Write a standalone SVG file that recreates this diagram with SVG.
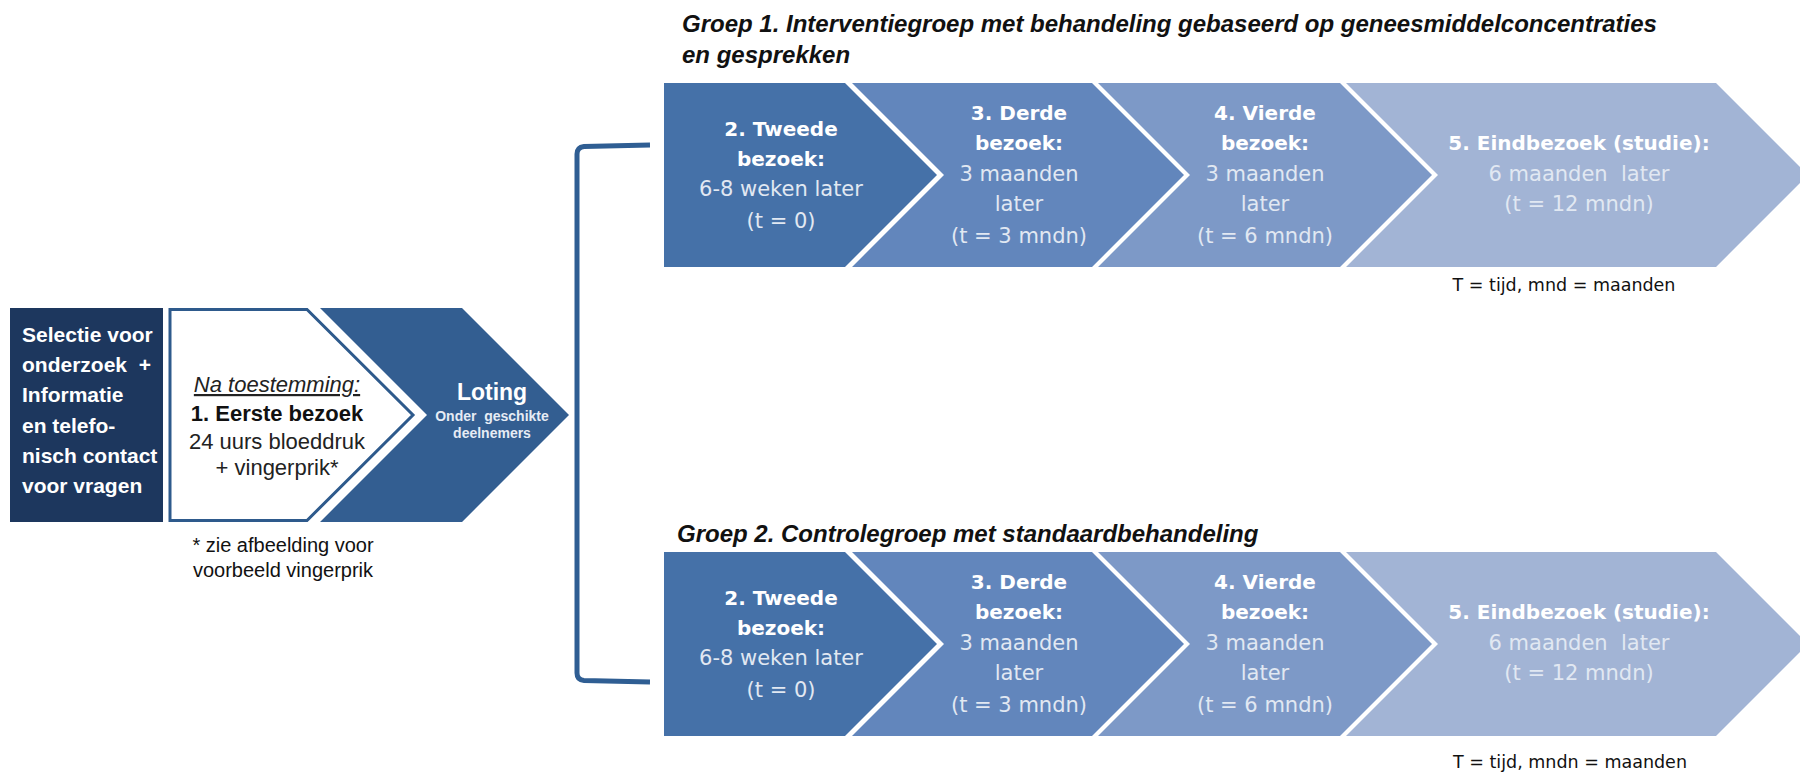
<svg xmlns="http://www.w3.org/2000/svg" width="1800" height="773" viewBox="0 0 1800 773">
<style>
text{font-family:"Liberation Sans",Arial,sans-serif}
.lb{font-size:21px;font-weight:bold;fill:#FFFFFF}
.ct{font-family:"DejaVu Sans",sans-serif;font-size:20px;font-weight:bold;fill:#FFFFFF;text-anchor:middle}
.cb{font-family:"DejaVu Sans",sans-serif;font-size:21px;fill:#E1E8F2;text-anchor:middle}
.ttl{font-size:24px;font-weight:bold;font-style:italic;fill:#111111}
.note{font-size:20px;fill:#111111;text-anchor:middle}
.leg{font-family:"DejaVu Sans",sans-serif;font-size:17.5px;fill:#111111;text-anchor:middle}
.c1{fill:#4571A8}
.c2{fill:#6286BC}
.c3{fill:#7D99C7}
.c4{fill:#A2B4D5}
</style>
<rect width="1800" height="773" fill="#FFFFFF"/>

<g id="selectie">
<rect x="10" y="308" width="153" height="214" fill="#1D375E"/>
<text class="lb" x="22" y="342">Selectie voor</text>
<text class="lb" x="22" y="372" xml:space="preserve">onderzoek  +</text>
<text class="lb" x="22" y="402">Informatie</text>
<text class="lb" x="22" y="433">en telefo-</text>
<text class="lb" x="22" y="463">nisch contact</text>
<text class="lb" x="22" y="493">voor vragen</text>
</g>

<g id="eerste-bezoek">
<polygon points="170,309.5 307,309.5 413,415 307,520.5 170,520.5" fill="#FFFFFF" stroke="#2E5A8C" stroke-width="3"/>
<text x="277" y="392" text-anchor="middle" font-size="22" font-style="italic" fill="#222222" text-decoration="underline">Na toestemming:</text>
<text x="277" y="421" text-anchor="middle" font-size="22" font-weight="bold" fill="#111111">1. Eerste bezoek</text>
<text x="277" y="449" text-anchor="middle" font-size="22" fill="#222222">24 uurs bloeddruk</text>
<text x="277" y="475" text-anchor="middle" font-size="22" fill="#222222">+ vingerprik*</text>
</g>

<g id="voetnoot">
<text class="note" x="283" y="552">* zie afbeelding voor</text>
<text class="note" x="283" y="577">voorbeeld vingerprik</text>
</g>

<g id="loting">
<polygon points="320,308 462,308 569,415 462,522 320,522 427,415" fill="#335E91"/>
<text x="492" y="400" text-anchor="middle" font-size="23" font-weight="bold" fill="#FFFFFF">Loting</text>
<text x="492" y="421" text-anchor="middle" font-size="14" font-weight="bold" fill="#E6ECF5" xml:space="preserve">Onder  geschikte</text>
<text x="492" y="438" text-anchor="middle" font-size="14" font-weight="bold" fill="#E6ECF5">deelnemers</text>
</g>

<g id="connectors">
<path d="M650,145 L584,146.5 Q577,147.5 577,154 L577,673 Q577,680 584,680.5 L650,682" fill="none" stroke="#2F5E93" stroke-width="5"/>
</g>

<g id="groep1-titel">
<text class="ttl" x="682" y="32">Groep 1. Interventiegroep met behandeling gebaseerd op geneesmiddelconcentraties</text>
<text class="ttl" x="682" y="63">en gesprekken</text>
</g>

<g id="g1-tweede">
<polygon class="c1" points="664,83 845,83 937,175 845,267 664,267"/>
<text class="ct" x="781" y="136">2. Tweede</text>
<text class="ct" x="781" y="166">bezoek:</text>
<text class="cb" x="781" y="196">6-8 weken later</text>
<text class="cb" x="781" y="228">(t = 0)</text>
</g>
<g id="g1-derde">
<polygon class="c2" points="852,83 1092,83 1184,175 1092,267 852,267 944,175"/>
<text class="ct" x="1019" y="120">3. Derde</text>
<text class="ct" x="1019" y="150">bezoek:</text>
<text class="cb" x="1019" y="181">3 maanden</text>
<text class="cb" x="1019" y="211">later</text>
<text class="cb" x="1019" y="243">(t = 3 mndn)</text>
</g>
<g id="g1-vierde">
<polygon class="c3" points="1098,83 1340,83 1432,175 1340,267 1098,267 1190,175"/>
<text class="ct" x="1265" y="120">4. Vierde</text>
<text class="ct" x="1265" y="150">bezoek:</text>
<text class="cb" x="1265" y="181">3 maanden</text>
<text class="cb" x="1265" y="211">later</text>
<text class="cb" x="1265" y="243">(t = 6 mndn)</text>
</g>
<g id="g1-eind">
<polygon class="c4" points="1346,83 1716,83 1808,175 1716,267 1346,267 1438,175"/>
<text class="ct" x="1579" y="150">5. Eindbezoek (studie):</text>
<text class="cb" x="1579" y="181" xml:space="preserve">6 maanden  later</text>
<text class="cb" x="1579" y="211">(t = 12 mndn)</text>
</g>
<g id="g1-legenda">
<text class="leg" x="1564" y="291">T = tijd, mnd = maanden</text>
</g>

<g id="groep2-titel">
<text class="ttl" x="677" y="542">Groep 2. Controlegroep met standaardbehandeling</text>
</g>

<g id="g2-tweede">
<polygon class="c1" points="664,552 845,552 937,644 845,736 664,736"/>
<text class="ct" x="781" y="605">2. Tweede</text>
<text class="ct" x="781" y="635">bezoek:</text>
<text class="cb" x="781" y="665">6-8 weken later</text>
<text class="cb" x="781" y="697">(t = 0)</text>
</g>
<g id="g2-derde">
<polygon class="c2" points="852,552 1092,552 1184,644 1092,736 852,736 944,644"/>
<text class="ct" x="1019" y="589">3. Derde</text>
<text class="ct" x="1019" y="619">bezoek:</text>
<text class="cb" x="1019" y="650">3 maanden</text>
<text class="cb" x="1019" y="680">later</text>
<text class="cb" x="1019" y="712">(t = 3 mndn)</text>
</g>
<g id="g2-vierde">
<polygon class="c3" points="1098,552 1340,552 1432,644 1340,736 1098,736 1190,644"/>
<text class="ct" x="1265" y="589">4. Vierde</text>
<text class="ct" x="1265" y="619">bezoek:</text>
<text class="cb" x="1265" y="650">3 maanden</text>
<text class="cb" x="1265" y="680">later</text>
<text class="cb" x="1265" y="712">(t = 6 mndn)</text>
</g>
<g id="g2-eind">
<polygon class="c4" points="1346,552 1716,552 1808,644 1716,736 1346,736 1438,644"/>
<text class="ct" x="1579" y="619">5. Eindbezoek (studie):</text>
<text class="cb" x="1579" y="650" xml:space="preserve">6 maanden  later</text>
<text class="cb" x="1579" y="680">(t = 12 mndn)</text>
</g>
<g id="g2-legenda">
<text class="leg" x="1570" y="768">T = tijd, mndn = maanden</text>
</g>
</svg>
